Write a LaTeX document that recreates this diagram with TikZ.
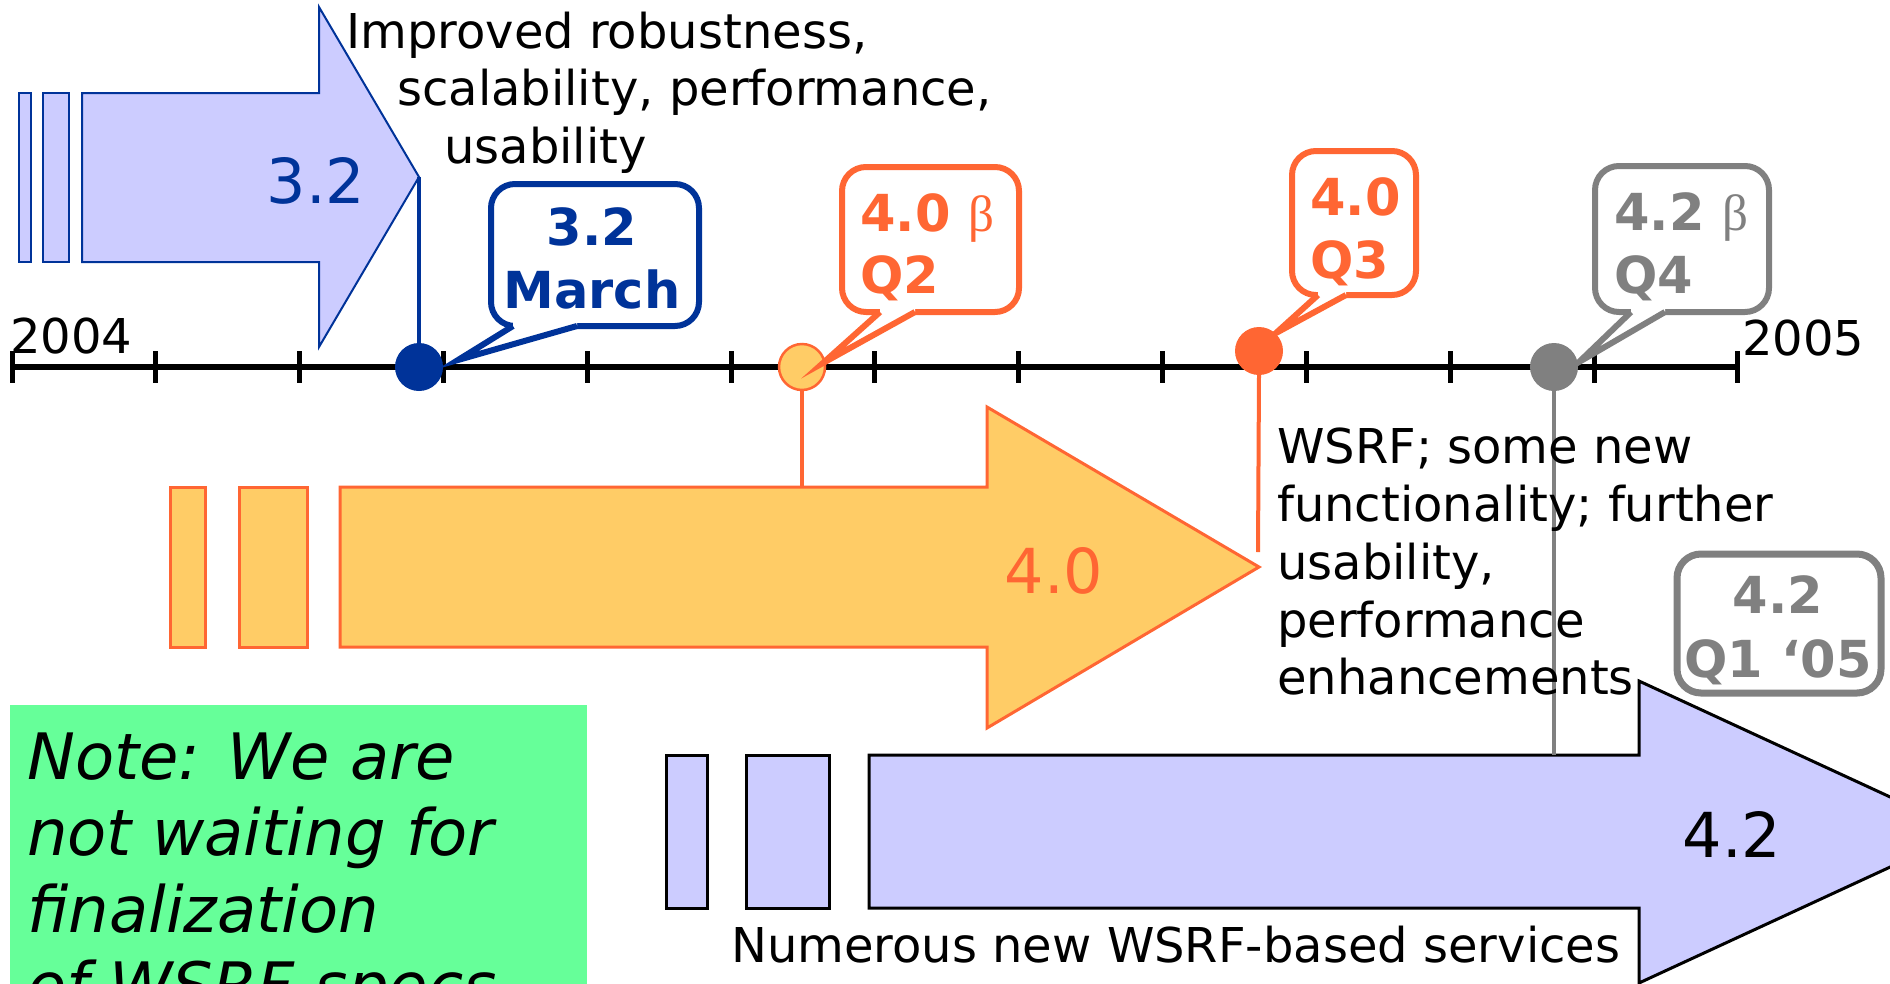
\documentclass[tikz,border=0pt]{standalone}
\usepackage{fontspec}
\setmainfont{DejaVu Sans}[ItalicFont={DejaVu Sans Oblique},BoldFont={DejaVu Sans Bold}]
\newfontfamily\betafont{Liberation Serif}
\definecolor{cblue}{HTML}{003399}
\definecolor{corange}{HTML}{FF6633}
\definecolor{cyellow}{HTML}{FFCC66}
\definecolor{clav}{HTML}{CCCCFF}
\definecolor{cgrey}{HTML}{808080}
\definecolor{cgreen}{HTML}{66FF99}
\tikzset{
  txt/.style={inner sep=0pt, font=\fontsize{48}{57.5}\selectfont},
  bignum/.style={inner sep=0pt, font=\fontsize{62}{70}\selectfont},
  cbold/.style={inner sep=0pt, font=\bfseries\fontsize{51}{60}\selectfont},
  notetxt/.style={inner sep=0pt, font=\itshape\fontsize{64}{77}\selectfont},
  dotnode/.style={circle, minimum size=48pt, inner sep=0pt},
  cbox/.style={line width=6pt, rounded corners=24pt, fill=white},
  ctail/.style={line width=6pt, line join=miter, miter limit=20},
  vline/.style={line width=4pt},
}
\begin{document}
\begin{tikzpicture}[x=1pt,y=-1pt]
\useasboundingbox (0,0) rectangle (1890,983);
\clip (0,0) rectangle (1890,983);

% ---- 3.2 arrow
\draw[draw=cblue, fill=clav, line width=2pt] (19,93) rectangle (31,262);
\draw[draw=cblue, fill=clav, line width=2pt] (43,93) rectangle (69,262);
\draw[draw=cblue, fill=clav, line width=2pt, line join=miter]
  (82,93) -- (319,93) -- (319,7) -- (419,177) -- (319,347) -- (319,262) -- (82,262) -- cycle;
\coordinate (tip32) at (419,177);
\node[bignum, text=cblue, anchor=base] (n32) at (316,203) {3.2};

% ---- 4.0 arrow
\draw[draw=corange, fill=cyellow, line width=3pt] (170,487) rectangle (205,647);
\draw[draw=corange, fill=cyellow, line width=3pt] (239,487) rectangle (307,647);
\draw[draw=corange, fill=cyellow, line width=3pt, line join=miter]
  (340,487) -- (987,487) -- (987,407) -- (1259,567) -- (987,728) -- (987,647) -- (340,647) -- cycle;
\coordinate (top40) at (802,487);
\coordinate (end40) at (1258,552);
\node[bignum, text=corange, anchor=base] (n40) at (1054,593) {4.0};

% ---- 4.2 arrow
\draw[draw=black, fill=clav, line width=3pt] (666,755) rectangle (707,908);
\draw[draw=black, fill=clav, line width=3pt] (746,755) rectangle (829,908);
\draw[draw=black, fill=clav, line width=3pt, line join=miter]
  (869,755) -- (1639,755) -- (1639,681) -- (1966,832) -- (1639,983) -- (1639,908) -- (869,908) -- cycle;
\coordinate (top42) at (1554,755);
\node[bignum, text=black, anchor=base] (n42) at (1732,857) {4.2};

% ---- green note
\fill[cgreen] (10,705) rectangle (587,995);
\node[notetxt, anchor=base west] (note1) at (27,779) {Note: We are};
\node[notetxt, anchor=base west] (note2) at (27,855) {not waiting for};
\node[notetxt, anchor=base west] (note3) at (27,932) {finalization};
\node[notetxt, anchor=base west] (note4) at (27,1008) {of WSRF specs};

% ---- timeline
\coordinate (tl0) at (12,367);
\coordinate (tl12) at (1738,367);
\draw[line width=6pt] (tl0) -- (tl12);
\foreach \i in {0,...,12} {
  \draw[line width=5pt] ({12+\i*143.83},351) -- ({12+\i*143.83},383);
}
\node[txt, anchor=base west] (y2004) at (10,353) {2004};
\node[txt, anchor=base west] (y2005) at (1742,355) {2005};

% ---- dots
\node[dotnode, fill=cblue] (d32) at (419,367) {};
\node[dotnode, fill=cyellow, draw=corange, line width=2.5pt, minimum size=46pt] (d40b) at (802,367) {};
\node[dotnode, fill=corange] (d40) at (1259,351) {};
\node[dotnode, fill=cgrey] (d42b) at (1554,367) {};

% ---- connectors
\draw[cblue, vline] (tip32) -- (d32.north);
\draw[corange, vline] (d40b.south) -- (top40);
\draw[corange, vline] (d40.south) -- (end40);
\draw[cgrey, vline] (d42b.south) -- (top42);

% ---- texts
\node[txt, anchor=base west] (imp1) at (346,48) {Improved robustness,};
\node[txt, anchor=base west] (imp2) at (397,105) {scalability, performance,};
\node[txt, anchor=base west] (imp3) at (444,163) {usability};

\node[txt, anchor=base west] (w1) at (1277,463) {WSRF; some new};
\node[txt, anchor=base west] (w2) at (1277,521) {functionality; further};
\node[txt, anchor=base west] (w3) at (1277,579) {usability,};
\node[txt, anchor=base west] (w4) at (1277,637) {performance};
\node[txt, anchor=base west] (w5) at (1277,694) {enhancements};

\node[txt, anchor=base west] (num) at (731,962) {Numerous new WSRF-based services};

% ---- callout 3.2 March
\draw[cbox, draw=cblue] (491,184) rectangle (699,326);
\fill[white] (513,321) -- (513,326) -- (458,360) -- (577,326) -- (577,321) -- cycle;
\draw[ctail, cblue] (513,326) -- (458,360) -- (577,326);
\node[cbold, text=cblue, anchor=base] (c32a) at (592,245) {3.2};
\node[cbold, text=cblue, anchor=base] (c32b) at (592,308) {March};

% ---- callout 4.0 beta Q2
\draw[cbox, draw=corange] (842,167) rectangle (1019,312);
\fill[white] (880,307) -- (880,312) -- (823,363) -- (915,312) -- (915,307) -- cycle;
\draw[ctail, corange] (880,312) -- (823,363) -- (915,312);
\node[cbold, text=corange, anchor=base west] (cq2a) at (860,231) {4.0 {\betafont\mdseries β}};
\node[cbold, text=corange, anchor=base west] (cq2b) at (860,293) {Q2};

% ---- callout 4.0 Q3
\draw[cbox, draw=corange] (1292,151) rectangle (1416,295);
\fill[white] (1318,290) -- (1318,295) -- (1276,333) -- (1346,295) -- (1346,290) -- cycle;
\draw[ctail, corange] (1318,295) -- (1276,333) -- (1346,295);
\node[cbold, text=corange, anchor=base west] (cq3a) at (1310,215) {4.0};
\node[cbold, text=corange, anchor=base west] (cq3b) at (1310,278) {Q3};

% ---- callout 4.2 beta Q4
\draw[cbox, draw=cgrey] (1595,166) rectangle (1769,312);
\fill[white] (1631,307) -- (1631,312) -- (1579,362) -- (1665,312) -- (1665,307) -- cycle;
\draw[ctail, cgrey] (1631,312) -- (1579,362) -- (1665,312);
\node[cbold, text=cgrey, anchor=base west] (cq4a) at (1614,230) {4.2 {\betafont\mdseries β}};
\node[cbold, text=cgrey, anchor=base west] (cq4b) at (1614,293) {Q4};

% ---- callout 4.2 Q1 05
\draw[cbox, draw=cgrey, line width=7pt] (1677,554) rectangle (1881,693);
\node[cbold, text=cgrey, anchor=base] (cq5a) at (1778,613) {4.2};
\node[cbold, text=cgrey, anchor=base] (cq5b) at (1778,677) {Q1 ‘05};
\end{tikzpicture}
\end{document}
